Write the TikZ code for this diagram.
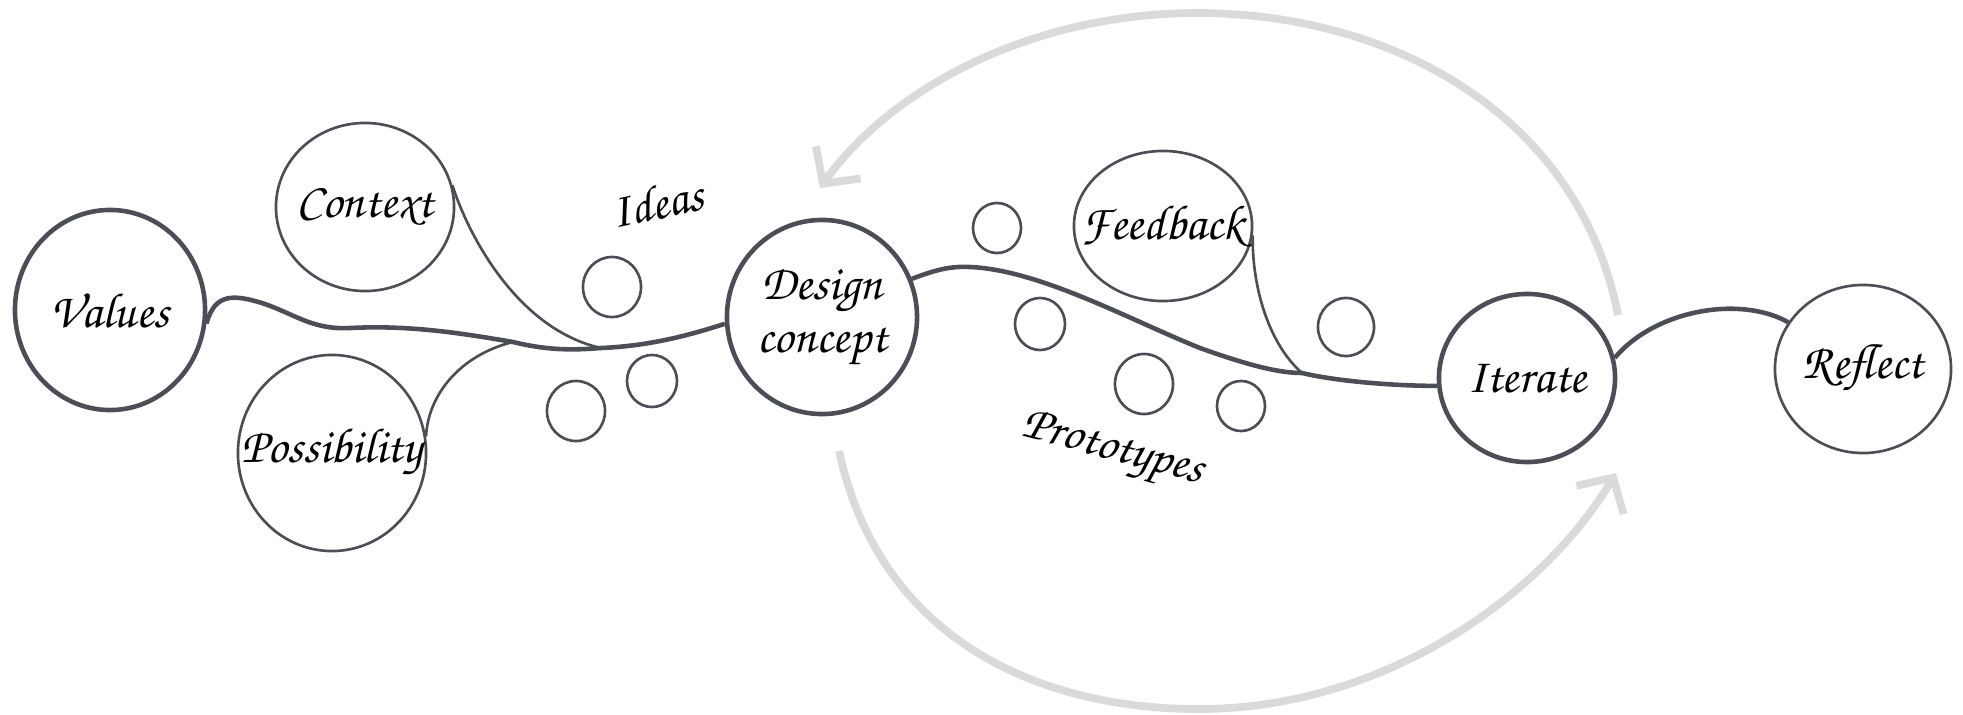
\documentclass[tikz,border=0pt]{standalone}
\usepackage[T1]{fontenc}
\usepackage{tikz}
\usetikzlibrary{shapes.geometric,arrows.meta}

\definecolor{ink}{HTML}{4B4E55}
\definecolor{mist}{HTML}{DADADA}
\newcommand\hand{\fontfamily{pzc}\fontseries{mb}\fontshape{it}\fontsize{14}{15}\selectfont}
% keep the words from widening the ellipse
\newcommand\word[1]{\makebox[0pt]{#1}}

\begin{document}
\begin{tikzpicture}[x=0.01cm,y=-0.01cm,
  bub/.style={draw=ink,line width=0.75pt,ellipse,inner sep=0pt,font=\hand},
  big/.style={bub,line width=1.3pt},
  flow/.style={draw=ink,line width=1.3pt},
  twig/.style={draw=ink,line width=0.75pt},
  backloop/.style={draw=mist,line width=2.2pt,-{Straight Barb[length=2.6mm,width=5.5mm]}}]
\useasboundingbox (0,0) rectangle (1963,715);

% the grey loop behind everything
\coordinate (backfrom) at (1618,315);
\coordinate (backto) at (820,188);
\coordinate (fwdfrom) at (839,451);
\coordinate (fwdto) at (1616,473);
\draw[backloop] (backfrom) .. controls (1580,120) and (1400,15) .. (1202,13)
  .. controls (1030,12) and (890,90) .. (backto);
\draw[backloop] (fwdfrom) .. controls (880,640) and (1040,710) .. (1202,709)
  .. controls (1380,708) and (1540,600) .. (fwdto);

% big bubbles
\node[big,minimum width=1.90cm,minimum height=2.00cm] (values) at (110,310) {\word{Values}};
\node[bub,minimum width=1.78cm,minimum height=1.68cm] (context) at (365,207) {\word{Context}};
\node[bub,minimum width=1.88cm,minimum height=1.96cm] (possibility) at (332,453) {\word{Possibility}};
\node[big,minimum width=1.90cm,minimum height=1.94cm] (design) at (822,317)
  {\word{\raisebox{2pt}{\shortstack{Design\\[0pt]concept}}}};
\node[bub,minimum width=1.78cm,minimum height=1.50cm] (feedback) at (1163,226) {\word{Feedback}};
\node[big,minimum width=1.76cm,minimum height=1.68cm] (iterate) at (1527,378) {\word{Iterate}};
\node[bub,minimum width=1.76cm,minimum height=1.68cm] (reflect) at (1863,369) {\word{Reflect}};

% little ones
\node[bub,minimum width=0.58cm,minimum height=0.60cm] (idea1) at (612,287) {};
\node[bub,minimum width=0.50cm,minimum height=0.52cm] (idea2) at (652,381) {};
\node[bub,minimum width=0.58cm,minimum height=0.60cm] (idea3) at (576,411) {};
\node[bub,minimum width=0.48cm,minimum height=0.50cm] (proto1) at (997,228) {};
\node[bub,minimum width=0.50cm,minimum height=0.52cm] (proto2) at (1040,324) {};
\node[bub,minimum width=0.58cm,minimum height=0.60cm] (proto3) at (1144,384) {};
\node[bub,minimum width=0.48cm,minimum height=0.50cm] (proto4) at (1241,406) {};
\node[bub,minimum width=0.56cm,minimum height=0.58cm] (proto5) at (1346,327) {};

\node[font=\hand,rotate=12] (ideas) at (657,202) {Ideas};
\node[font=\hand,rotate=-15] (protos) at (1112,452) {Prototypes};

% the main thread
\coordinate (posjoin) at (513,342);
\coordinate (ctxjoin) at (601,348);
\coordinate (fbjoin) at (1302,373);
\draw[flow] (values.-8) .. controls (215,292) and (235,295) .. (262,303)
  .. controls (295,314) and (312,330) .. (350,328)
  .. controls (410,325) and (460,333) .. (posjoin)
  .. controls (550,351) and (575,350) .. (ctxjoin)
  .. controls (650,346) and (690,335) .. (design.184);
\draw[flow] (design.23) .. controls (935,270) and (950,266) .. (970,267)
  .. controls (1040,270) and (1130,320) .. (1200,348)
  .. controls (1250,366) and (1280,373) .. (fbjoin)
  .. controls (1340,382) and (1400,386) .. (iterate.185);
\draw[flow] (iterate.13) .. controls (1655,310) and (1740,295) .. (reflect.148);

% side branches
\draw[twig] (context.14) .. controls (470,240) and (520,330) .. (ctxjoin);
\draw[twig] (possibility.10) .. controls (428,395) and (460,355) .. (posjoin);
\draw[twig] (feedback.-6) .. controls (1252,290) and (1270,345) .. (fbjoin);
\end{tikzpicture}
\end{document}
